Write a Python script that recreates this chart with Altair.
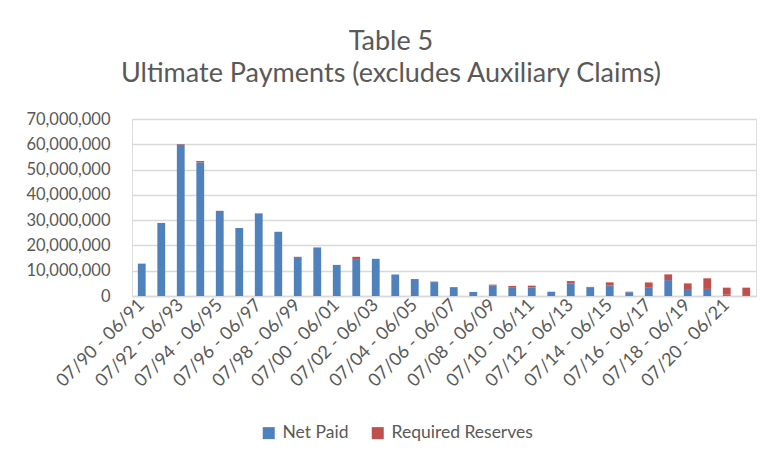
import altair as alt
import pandas as pd

periods = [
    "07/90 - 06/91", "07/91 - 06/92", "07/92 - 06/93", "07/93 - 06/94",
    "07/94 - 06/95", "07/95 - 06/96", "07/96 - 06/97", "07/97 - 06/98",
    "07/98 - 06/99", "07/99 - 06/00", "07/00 - 06/01", "07/01 - 06/02",
    "07/02 - 06/03", "07/03 - 06/04", "07/04 - 06/05", "07/05 - 06/06",
    "07/06 - 06/07", "07/07 - 06/08", "07/08 - 06/09", "07/09 - 06/10",
    "07/10 - 06/11", "07/11 - 06/12", "07/12 - 06/13", "07/13 - 06/14",
    "07/14 - 06/15", "07/15 - 06/16", "07/16 - 06/17", "07/17 - 06/18",
    "07/18 - 06/19", "07/19 - 06/20", "07/20 - 06/21", "07/21 - 06/22",
]

net_paid = [
    12800000, 28900000, 59900000, 52800000, 33600000, 26900000, 32600000, 25400000,
    15400000, 19200000, 12300000, 14600000, 14700000, 8500000, 6700000, 5500000,
    3500000, 1600000, 4100000, 3500000, 3400000, 1700000, 5000000, 3500000,
    4100000, 1500000, 3500000, 6300000, 2400000, 2800000, 500000, 400000,
]

required_reserves = [
    0, 0, 200000, 600000, 100000, 0, 100000, 0,
    100000, 0, 0, 900000, 0, 0, 0, 200000,
    0, 0, 400000, 500000, 700000, 0, 900000, 100000,
    1300000, 200000, 1850000, 2250000, 2600000, 4200000, 2800000, 2900000,
]

series_names = ["Net Paid", "Required Reserves"]
series_colors = ["#4F81BD", "#C0504D"]

rows = []
for p, a, b in zip(periods, net_paid, required_reserves):
    rows.append({"Period": p, "Series": series_names[0], "Value": a, "Order": 0})
    rows.append({"Period": p, "Series": series_names[1], "Value": b, "Order": 1})
df = pd.DataFrame(rows)

shown_labels = periods[::2]
text_color = "#595959"
font = "Lato"

chart = alt.Chart(df).mark_bar().encode(
    x=alt.X(
        "Period:N",
        sort=periods,
        scale=alt.Scale(paddingInner=0.6, paddingOuter=0.3),
        axis=alt.Axis(
            title=None,
            values=shown_labels,
            labelAngle=-45,
            labelAlign="right",
            labelBaseline="middle",
            labelFontSize=18,
            labelColor=text_color,
            labelFont=font,
            labelPadding=6,
            ticks=False,
            domainColor="#D9D9D9",
            domainWidth=1.5,
            grid=False,
        ),
    ),
    y=alt.Y(
        "Value:Q",
        stack="zero",
        scale=alt.Scale(domain=[0, 70000000], nice=False),
        axis=alt.Axis(
            title=None,
            format=",d",
            values=[0, 10000000, 20000000, 30000000, 40000000, 50000000, 60000000, 70000000],
            labelFontSize=16.5,
            labelColor=text_color,
            labelFont=font,
            labelPadding=22,
            ticks=False,
            domain=False,
            gridColor="#D9D9D9",
            gridWidth=1.5,
        ),
    ),
    color=alt.Color(
        "Series:N",
        scale=alt.Scale(domain=series_names, range=series_colors),
        legend=alt.Legend(
            title=None,
            orient="none",
            legendX=128,
            legendY=305,
            direction="horizontal",
            symbolType="square",
            symbolSize=144,
            symbolStrokeWidth=0,
            labelFontSize=17.5,
            labelColor=text_color,
            labelFont=font,
            labelOffset=5,
            columnPadding=20,
        ),
    ),
    order=alt.Order("Order:Q", sort="ascending"),
).properties(
    width=624,
    height=177,
    title=alt.Title(
        ["Table 5", "Ultimate Payments (excludes Auxiliary Claims)"],
        fontSize=27,
        font=font,
        fontWeight="normal",
        color=text_color,
        lineHeight=32,
        anchor="middle",
        frame="bounds",
        offset=23,
    ),
    padding={"left": 17, "top": 20, "right": 5, "bottom": 5},
).configure_view(
    stroke=None
).configure(
    background="white"
)

chart.save("out.html", embed_options={"renderer": "svg", "actions": False})
